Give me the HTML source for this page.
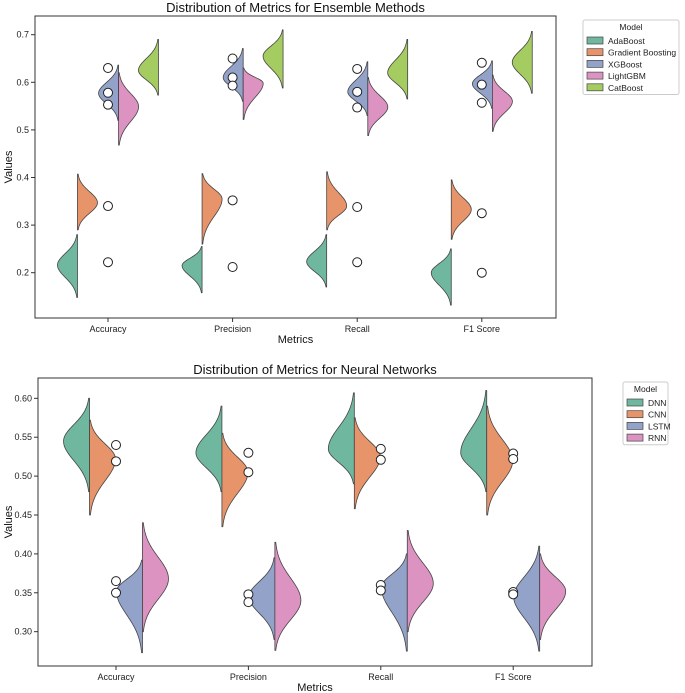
<!DOCTYPE html>
<html><head><meta charset="utf-8"><style>
body{margin:0;background:#fff;}
svg{display:block;font-family:"Liberation Sans","DejaVu Sans",sans-serif;}
</style></head><body>
<svg id="c" width="685" height="693" viewBox="0 0 685 693" xmlns="http://www.w3.org/2000/svg"></svg>
<script>
const metrics = ["Accuracy","Precision","Recall","F1 Score"];
// Ensemble: [lo, peak, hi] per metric
const adaboost = [[0.148,0.216,0.28],[0.158,0.215,0.255],[0.17,0.223,0.28],[0.132,0.2,0.25]];
const gradBoost = [[0.29,0.347,0.407],[0.26,0.355,0.408],[0.29,0.34,0.412],[0.27,0.333,0.395]];
const xgboost = [[0.52,0.577,0.636],[0.56,0.61,0.671],[0.53,0.58,0.643],[0.545,0.597,0.645]];
const lightgbm = [[0.468,0.549,0.62],[0.522,0.598,0.63],[0.488,0.548,0.61],[0.497,0.56,0.615]];
const catboost = [[0.573,0.625,0.69],[0.588,0.655,0.71],[0.565,0.62,0.69],[0.577,0.642,0.707]];
const ensPoints = [[0.34,0.222,0.63,0.578,0.553],[0.352,0.212,0.65,0.61,0.593],[0.338,0.222,0.628,0.58,0.547],[0.325,0.2,0.641,0.595,0.557]];
const ensTicks = [0.2,0.3,0.4,0.5,0.6,0.7];
// Neural: [lo, peak, hi]
const dnn = [[0.48,0.545,0.60],[0.48,0.53,0.59],[0.49,0.535,0.607],[0.48,0.53,0.61]];
const cnn = [[0.45,0.522,0.572],[0.435,0.505,0.555],[0.458,0.525,0.575],[0.45,0.52,0.59]];
const lstm = [[0.273,0.352,0.392],[0.29,0.345,0.395],[0.275,0.357,0.40],[0.275,0.345,0.41]];
const rnn = [[0.30,0.368,0.44],[0.276,0.34,0.415],[0.30,0.362,0.43],[0.29,0.352,0.40]];
const nnPoints = [[0.54,0.519,0.365,0.35],[0.53,0.505,0.348,0.338],[0.535,0.521,0.36,0.353],[0.529,0.522,0.351,0.348]];
const nnTicks = [0.30,0.35,0.40,0.45,0.50,0.55,0.60];

const NS="http://www.w3.org/2000/svg";
const svg=document.getElementById('c');
function mk(tag,attrs,parent){const e=document.createElementNS(NS,tag);for(const k in attrs)e.setAttribute(k,attrs[k]);(parent||svg).appendChild(e);return e;}
function txt(s,attrs,parent){const e=mk('text',attrs,parent);e.textContent=s;return e;}

function halfViolin(g,cx,d,side,maxW,yf,color,name){
  const [lo,pk,hi]=d;const sl=(pk-lo)/2.6, sh=(hi-pk)/2.6;const n=60;let pts=[];
  for(let i=0;i<=n;i++){const v=lo+(hi-lo)*i/n;const s=v<pk?sl:sh;const w=Math.exp(-0.5*((v-pk)/s)**2);pts.push([cx+side*w*maxW,yf(v)]);}
  let dstr=`M${cx},${yf(lo)} `+pts.map(p=>`L${p[0].toFixed(2)},${p[1].toFixed(2)}`).join(' ')+` L${cx},${yf(hi)} Z`;
  const p=mk('path',{d:dstr,fill:color,stroke:'#444','stroke-width':0.8},g);
  
  
}

function panel(o){
  const g=mk('g',{});
  
  
  const yf=v=>o.y0+(v-o.tv0)/(o.tv1-o.tv0)*(o.y1-o.y0);
  const xf=i=>o.cx0+i*o.dx;
  mk('rect',{x:o.L,y:o.T,width:o.R-o.L,height:o.B-o.T,fill:'none',stroke:'#333','stroke-width':1},g);
  o.ticks.forEach(t=>{const y=yf(t);mk('line',{x1:o.L-4,x2:o.L,y1:y,y2:y,stroke:'#333'},g);
    const e=txt(t.toFixed(o.dec),{x:o.L-6,y:y+3,'font-size':9,'text-anchor':'end',fill:'#222'},g);});
  metrics.forEach((m,i)=>{const x=xf(i);mk('line',{x1:x,x2:x,y1:o.B,y2:o.B+4,stroke:'#333'},g);
    const e=txt(m,{x:x,y:o.B+14,'font-size':9,'text-anchor':'middle',fill:'#222'},g);});
  o.series.forEach(s=>{s.data.forEach((d,i)=>halfViolin(g,xf(i)+s.off*o.dx,d,s.side,o.maxW,yf,s.color,'violin-'+s.key));});
  o.points.forEach((arr,i)=>arr.forEach(v=>{const c=mk('circle',{cx:xf(i),cy:yf(v),r:4.5,fill:'#fff',stroke:'#222','stroke-width':1},g);}));
  let e=txt(o.title,{x:(o.L+o.R)/2,y:o.T-4,'font-size':13,'text-anchor':'middle',fill:'#111'},g);
  e=txt('Metrics',{x:(o.L+o.R)/2,y:o.B+25,'font-size':11,'text-anchor':'middle',fill:'#111'},g);
  const my=(o.T+o.B)/2;e=txt('Values',{x:12,y:my,'font-size':11,'text-anchor':'middle',fill:'#111',transform:`rotate(-90 12 ${my})`},g);
  // legend
  const lg=mk('g',{},g);
  mk('rect',{x:o.lx,y:o.ly,width:o.lw,height:16+o.series.length*11.7,fill:'#fff',stroke:'#ccc',rx:2},lg);
  txt('Model',{x:o.lx+o.lw/2,y:o.ly+10,'font-size':8.5,'text-anchor':'middle',fill:'#222'},lg);
  o.series.forEach((s,k)=>{const y=o.ly+17+k*11.7;
    const en=mk('g',{},lg);
    mk('rect',{x:o.lx+4,y:y,width:16,height:7,fill:s.color,stroke:'#444','stroke-width':0.7},en);
    txt(s.label,{x:o.lx+25,y:y+7,'font-size':8.5,fill:'#222'},en);});
}

panel({name:'ensemble-chart',title:'Distribution of Metrics for Ensemble Methods',L:35,R:556,T:16,B:318,
  y0:272.7,y1:34.7,tv0:0.2,tv1:0.7,ticks:ensTicks,dec:1,cx0:108,dx:124.6,maxW:20,points:ensPoints,
  lx:583,ly:20,lw:96,
  series:[
   {key:'adaboost',label:'AdaBoost',data:adaboost,off:-0.245,side:-1,color:'#70b7a0'},
   {key:'gradient-boosting',label:'Gradient Boosting',data:gradBoost,off:-0.245,side:1,color:'#e8946a'},
   {key:'xgboost',label:'XGBoost',data:xgboost,off:0.085,side:-1,color:'#93a2c8'},
   {key:'lightgbm',label:'LightGBM',data:lightgbm,off:0.085,side:1,color:'#dc93c2'},
   {key:'catboost',label:'CatBoost',data:catboost,off:0.405,side:-1,color:'#a5cc60'}]});

panel({name:'neural-chart',title:'Distribution of Metrics for Neural Networks',L:38,R:592,T:378,B:666,
  y0:340+875/3,y1:340+175/3,tv0:0.30,tv1:0.60,ticks:nnTicks,dec:2,cx0:116,dx:132.4,maxW:26,points:nnPoints,
  lx:623,ly:382,lw:45,
  series:[
   {key:'dnn',label:'DNN',data:dnn,off:-0.2,side:-1,color:'#70b7a0'},
   {key:'cnn',label:'CNN',data:cnn,off:-0.2,side:1,color:'#e8946a'},
   {key:'lstm',label:'LSTM',data:lstm,off:0.2,side:-1,color:'#93a2c8'},
   {key:'rnn',label:'RNN',data:rnn,off:0.2,side:1,color:'#dc93c2'}]});
</script>
</body></html>
